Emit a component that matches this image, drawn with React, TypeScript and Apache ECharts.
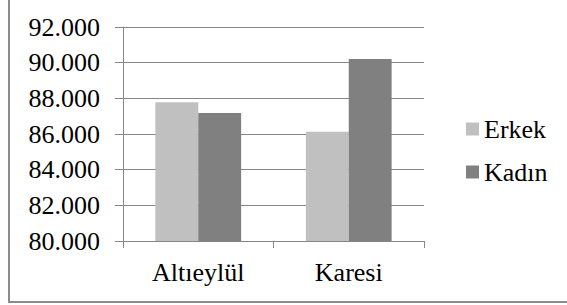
import React, { useEffect, useRef } from "react";
import * as echarts from "echarts";

const categories = ["Altıeylül", "Karesi"];
const erkek = [87775, 86130];
const kadin = [87180, 90200];
const seriesNames = ["Erkek", "Kadın"];
const yMin = 80000;
const yMax = 92000;
const yStep = 2000;

const FONT = "'Liberation Serif', 'Times New Roman', serif";
const GRAY = "#868686";

function fmt(v: number): string {
  const s = Math.round(v).toString();
  return s.slice(0, s.length - 3) + "." + s.slice(s.length - 3);
}

export default function App() {
  const ref = useRef<HTMLDivElement>(null);
  useEffect(() => {
    if (!ref.current) return;
    const chart = echarts.init(ref.current, null, { renderer: "svg" });
    chart.setOption({
      animation: false,
      backgroundColor: "#ffffff",
      textStyle: { fontFamily: FONT },
      grid: { left: 123, right: 143, top: 27, bottom: 64, containLabel: false },
      legend: {
        orient: "vertical",
        left: 466,
        top: 116,
        padding: 0,
        itemWidth: 13,
        itemHeight: 13,
        itemGap: 17,
        icon: "rect",
        textStyle: { fontFamily: FONT, fontSize: 26, color: "#000" },
        data: seriesNames,
      },
      xAxis: {
        type: "category",
        data: categories,
        axisLine: { lineStyle: { color: GRAY, width: 1 } },
        axisTick: { show: true, length: 7, lineStyle: { color: GRAY } },
        axisLabel: { fontFamily: FONT, fontSize: 26, color: "#000", margin: 18 },
      },
      yAxis: {
        type: "value",
        min: yMin,
        max: yMax,
        interval: yStep,
        axisLine: { show: true, lineStyle: { color: GRAY, width: 1 } },
        axisTick: { show: true, length: 8, lineStyle: { color: GRAY } },
        splitLine: { lineStyle: { color: GRAY, width: 1 } },
        axisLabel: {
          fontFamily: FONT,
          fontSize: 26,
          color: "#000",
          margin: 23,
          formatter: (v: number) => fmt(v),
        },
      },
      series: [
        {
          name: seriesNames[0],
          type: "bar",
          data: erkek,
          barGap: "0%",
          barCategoryGap: "43%",
          itemStyle: { color: "#c0c0c0" },
        },
        {
          name: seriesNames[1],
          type: "bar",
          data: kadin,
          barGap: "0%",
          barCategoryGap: "43%",
          itemStyle: { color: "#808080" },
        },
      ],
      graphic: [
        {
          type: "rect",
          silent: true,
          shape: { x: 9, y: -10, width: 600, height: 312 },
          style: { fill: "none", stroke: "#8c8c8c", lineWidth: 2 },
        },
      ],
    });
    return () => chart.dispose();
  }, []);
  return (
    <div
      ref={ref}
      style={{ position: "fixed", left: 0, top: 0, width: 567, height: 305 }}
    />
  );
}
